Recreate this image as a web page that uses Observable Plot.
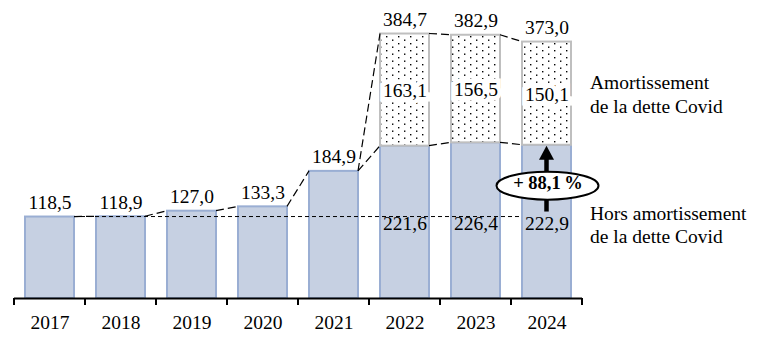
<!DOCTYPE html>
<html>
<head>
<meta charset="utf-8">
<script src="https://cdn.jsdelivr.net/npm/d3@7"></script>
<script src="https://cdn.jsdelivr.net/npm/@observablehq/plot@0.6"></script>
<style>
  html, body { margin: 0; padding: 0; background: white; }
</style>
</head>
<body>
<div id="chart"></div>
<script>
// ---- Data ----
const years = [2017, 2018, 2019, 2020, 2021, 2022, 2023, 2024];
const hors = [118.5, 118.9, 127.0, 133.3, 184.9, 221.6, 226.4, 222.9];
const amort = [0, 0, 0, 0, 0, 163.1, 156.5, 150.1];
const totals = [118.5, 118.9, 127.0, 133.3, 184.9, 384.7, 382.9, 373.0];
const pctLabel = "+ 88,1\u202F%";
const legendTop = "Amortissement\nde la dette Covid";
const legendBottom = "Hors amortissement\nde la dette Covid";

const fmt = v => v.toFixed(1).replace(".", ",");
const rows = years.map((year, i) => ({year, hors: hors[i], amort: amort[i], total: totals[i]}));
const split = rows.filter(d => d.amort > 0);
const last = rows[rows.length - 1];

const INSET = 11;
const FONT = "Liberation Serif";
const FS = 19.5;
const txt = {fontFamily: FONT, fontSize: FS, fill: "black"};

function overlay(index, scales) {
  const x = scales.x, y = scales.y;
  const bw = typeof x.bandwidth === "function" ? x.bandwidth() : scales.scales.x.bandwidth;
  const g = d3.create("svg:g");
  const y0 = y(0);
  // tick marks at band boundaries
  years.forEach(yr => {
    g.append("line").attr("x1", x(yr)).attr("x2", x(yr)).attr("y1", y0).attr("y2", y0 + 7)
      .attr("stroke", "black").attr("stroke-width", 2);
  });
  const xe = x(years[years.length - 1]) + bw;
  g.append("line").attr("x1", xe).attr("x2", xe).attr("y1", y0).attr("y2", y0 + 7)
    .attr("stroke", "black").attr("stroke-width", 2);
  // dashed reference line at 2017 level
  g.append("line")
    .attr("x1", x(years[0]) + bw - INSET).attr("x2", x(years[years.length - 1]) + INSET)
    .attr("y1", y(hors[0])).attr("y2", y(hors[0]))
    .attr("stroke", "black").attr("stroke-width", 1).attr("stroke-dasharray", "4,3");
  // connectors
  for (let i = 0; i < years.length - 1; i++) {
    const xa = x(years[i]) + bw - INSET, xb = x(years[i + 1]) + INSET;
    g.append("line").attr("x1", xa).attr("y1", y(totals[i])).attr("x2", xb).attr("y2", y(totals[i + 1]))
      .attr("stroke", "black").attr("stroke-width", 1.2).attr("stroke-dasharray", "8,4");
    if (amort[i + 1] > 0) {
      g.append("line").attr("x1", xa).attr("y1", y(hors[i])).attr("x2", xb).attr("y2", y(hors[i + 1]))
        .attr("stroke", "black").attr("stroke-width", 1.2).attr("stroke-dasharray", "8,4");
    }
  }
  // arrow + ellipse
  const cx = x(last.year) + bw / 2;
  const tip = y(last.hors) + 1;
  const bottom = y(hors[0]) - 5;
  g.append("line").attr("x1", cx).attr("x2", cx).attr("y1", tip + 10).attr("y2", bottom)
    .attr("stroke", "black").attr("stroke-width", 4.5);
  g.append("path")
    .attr("d", `M${cx},${tip} L${cx - 7.5},${tip + 14} L${cx + 7.5},${tip + 14} Z`)
    .attr("fill", "black");
  const cy = (y(hors[0]) + y(last.hors)) / 2 + 5;
  g.append("ellipse").attr("cx", cx + 1).attr("cy", cy).attr("rx", 51).attr("ry", 14)
    .attr("fill", "white").attr("stroke", "black").attr("stroke-width", 2);
  return g.node();
}

const chart = Plot.plot({
  width: 770,
  height: 345,
  marginLeft: 14,
  marginRight: 188,
  marginTop: 23,
  marginBottom: 47,
  x: {type: "band", domain: years, padding: 0, axis: null},
  y: {domain: [0, 400], axis: null},
  style: {fontFamily: FONT, fontSize: FS + "px", color: "black", background: "white"},
  marks: [
    Plot.barY(rows, {x: "year", y1: 0, y2: "hors", fill: "#c6d0e2", stroke: "#9aaed3", strokeWidth: 2, insetLeft: INSET, insetRight: INSET}),
    Plot.barY(split, {x: "year", y1: "hors", y2: "total", fill: "url(#dots)", stroke: "#bfbfbf", strokeWidth: 2, insetLeft: INSET, insetRight: INSET}),
    overlay,
    Plot.ruleY([0], {stroke: "black", strokeWidth: 2}),
    // total labels above bars
    Plot.text(rows, {...txt, x: "year", y: "total", text: d => fmt(d.total), lineAnchor: "bottom", dy: -8}),
    // Covid amortisation labels (white box)
    Plot.text(split, {...txt, x: "year", y: d => d.hors + d.amort / 2, text: d => fmt(d.amort), lineAnchor: "middle", dy: 1,
      stroke: "white", strokeWidth: 9, strokeLinejoin: "miter", paintOrder: "stroke"}),
    // hors amortisation labels for split bars
    Plot.text(split, {...txt, x: "year", y: () => hors[0], text: d => fmt(d.hors), lineAnchor: "bottom", dy: 13}),
    // percentage
    Plot.text([pctLabel], {...txt, x: () => last.year, y: () => (hors[0] + last.hors) / 2, text: d => d, dx: 1, dy: 8,
      lineAnchor: "bottom", fontWeight: "bold", fontSize: 18.5}),
    // legend labels
    Plot.text([legendTop], {...txt, x: () => last.year, y: () => last.hors + last.amort / 2, text: d => d, dx: 43,
      textAnchor: "start", lineAnchor: "middle", lineHeight: 1.2}),
    Plot.text([legendBottom], {...txt, x: () => last.year, y: () => last.hors / 2, text: d => d, dx: 43, dy: 2,
      textAnchor: "start", lineAnchor: "middle", lineHeight: 1.2}),
    // year labels
    Plot.text(years, {...txt, x: d => d, y: () => 0, text: d => String(d), lineAnchor: "top", dy: 16.5})
  ]
});

const defs = d3.select(chart).insert("defs", ":first-child");
const pat = defs.append("pattern").attr("id", "dots").attr("patternUnits", "userSpaceOnUse")
  .attr("width", 12).attr("height", 7);
pat.append("rect").attr("width", 12).attr("height", 7).attr("fill", "white");
[[2, 1], [8, 4.5]].forEach(([a, b]) =>
  pat.append("rect").attr("x", a).attr("y", b).attr("width", 1.4).attr("height", 1.4).attr("fill", "black"));

document.getElementById("chart").appendChild(chart);
</script>
</body>
</html>
